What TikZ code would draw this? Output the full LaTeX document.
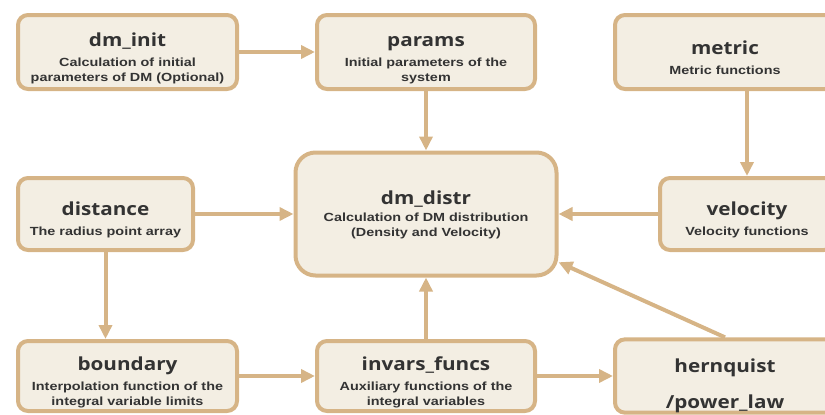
\documentclass[tikz,border=0pt]{standalone}
\usepackage{fontspec}
\usetikzlibrary{arrows.meta}
\newfontfamily\titlefont[FakeStretch=1.15]{Open Sans}
\newfontfamily\subfont[FakeStretch=1.22]{Liberation Sans}
\definecolor{boxline}{RGB}{214,180,134}
\definecolor{boxfill}{RGB}{243,238,227}
\definecolor{boxtext}{RGB}{51,51,51}
\newcommand{\ttl}[2][26pt]{{\rule{0pt}{#1}\titlefont\bfseries\fontsize{18}{15}\selectfont #2}}
\tikzset{
	blk/.style={draw=boxline, fill=boxfill, line width=4pt, rounded corners=10pt,
		align=center, text=boxtext, inner sep=0pt,
		font=\subfont\bfseries\fontsize{11.8}{15}\selectfont},
	flow/.style={draw=boxline, line width=4pt, -{Triangle[length=14pt,width=13pt]}}
}
\begin{document}
\begin{tikzpicture}[x=1pt,y=-1pt]
	\clip (0,0) rectangle (825,415);
	\useasboundingbox (0,0) rectangle (825,415);
	\node[blk, minimum width=219pt, minimum height=74pt] (dm_init) at (127.5,52) {\ttl{dm\_init}\\[5pt]Calculation of initial\\parameters of DM (Optional)};
	\node[blk, minimum width=218pt, minimum height=74pt] (params) at (426,52) {\ttl{params}\\[5pt]Initial parameters of the\\system};
	\node[blk, minimum width=220pt, minimum height=74pt] (metric) at (725,52) {\ttl{metric}\\[5pt]Metric functions};
	\node[blk, minimum width=175pt, minimum height=72pt] (distance) at (105.5,214) {\ttl{distance}\\[5pt]The radius point array};
	\node[blk, minimum width=261pt, minimum height=123pt, rounded corners=20pt] (dm_distr) at (426,214) {\ttl[16pt]{dm\_distr}\\[2pt]Calculation of DM distribution\\(Density and Velocity)};
	\node[blk, minimum width=174pt, minimum height=72pt] (velocity) at (747,214) {\ttl{velocity}\\[5pt]Velocity functions};
	\node[blk, minimum width=219pt, minimum height=70pt] (boundary) at (127.5,376) {\ttl{boundary}\\[5pt]Interpolation function of the\\integral variable limits};
	\node[blk, minimum width=218pt, minimum height=70pt] (invars_funcs) at (426,376) {\ttl{invars\_funcs}\\[5pt]Auxiliary functions of the\\integral variables};
	\node[blk, minimum width=220pt, minimum height=70pt] (hernquist) at (725,376) {\ttl[33pt]{hernquist}\\[17pt]\ttl[0pt]{/power\_law}};
	\draw[flow] (dm_init) -- (params);
	\draw[flow] (params) -- (dm_distr);
	\draw[flow] (metric.south -| velocity.north) -- (velocity.north);
	\draw[flow] (velocity) -- (dm_distr);
	\draw[flow] (distance) -- (dm_distr);
	\draw[flow] (distance) -- (distance |- boundary.north);
	\draw[flow] (boundary) -- (invars_funcs);
	\draw[flow] (invars_funcs) -- (dm_distr);
	\draw[flow] (invars_funcs) -- (hernquist);
	\draw[flow] (hernquist.north) -- (dm_distr.-20);
\end{tikzpicture}
\end{document}
